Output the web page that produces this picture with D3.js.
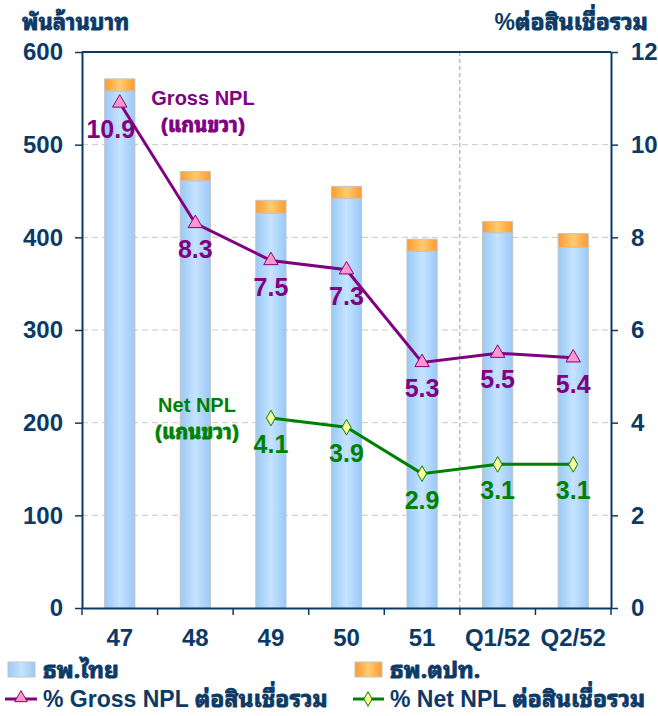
<!DOCTYPE html>
<html>
<head>
<meta charset="utf-8">
<script src="https://cdn.jsdelivr.net/npm/d3@7"></script>
<style>
	body { margin: 0; background: #fff; }
	text { font-family: "Liberation Sans", Arial, sans-serif; font-weight: bold; font-style: normal; }
	.tickLabel { fill: #0b3a66; font-size: 24px; }
	.axisTitle { fill: #0b3a66; font-size: 23px; }
	.legendText { fill: #0b3a66; font-size: 23px; }
	.thai { font-family: Tahoma, "Noto Sans Thai Looped", "Loma", "Garuda", "Waree", "Sarabun", "Noto Sans Thai", sans-serif; font-style: normal;
		stroke-width: 0.8px; paint-order: stroke; stroke-linejoin: round; }
</style>
</head>
<body>
<svg id="chart" width="658" height="716"></svg>
<script>
// data
var years = ['47', '48', '49', '50', '51', 'Q1/52', 'Q2/52'];
var thaiBanks = [558, 461, 426, 442, 385, 405, 389];     // ธพ.ไทย (พันล้านบาท)
var foreignBanks = [13, 10, 14, 13, 13, 12, 15];         // ธพ.ตปท.
var grossNpl = [10.9, 8.3, 7.5, 7.3, 5.3, 5.5, 5.4];     // % ต่อสินเชื่อรวม
var netNpl = [null, null, 4.1, 3.9, 2.9, 3.1, 3.1];
var leftTicks = [0, 100, 200, 300, 400, 500, 600];
var rightTicks = [0, 2, 4, 6, 8, 10, 12];

var navy = '#0b3a66';
var purple = '#800080';
var green = '#008000';
var plot = {left: 82, right: 611, top: 52, bottom: 608};

var svg = d3.select('#chart');

var x = d3.scaleBand()
	.domain(years)
	.range([plot.left, plot.right])
	.paddingInner(0.6)
	.paddingOuter(0.3);
var xBand = d3.scaleBand().domain(years).range([plot.left, plot.right]);
var yLeft = d3.scaleLinear().domain([0, 600]).range([plot.bottom, plot.top]);
var yRight = d3.scaleLinear().domain([0, 12]).range([plot.bottom, plot.top]);

var cx = function(i){ return xBand(years[i]) + xBand.bandwidth() / 2; };

// writes "latin part" + "thai part", thai part thickened a bit
var mixedText = function(sel, latin, thai, color){
	if (latin) sel.append('tspan').text(latin);
	sel.append('tspan').attr('class', 'thai').attr('stroke', color).text(thai);
	return sel;
};

// gradients for the bars
var defs = svg.append('defs');
var addGradient = function(id, edge, mid){
	var g = defs.append('linearGradient')
		.attr('id', id)
		.attr('x1', '0%').attr('x2', '100%')
		.attr('y1', '0%').attr('y2', '0%');
	g.append('stop').attr('offset', '0%').attr('stop-color', edge);
	g.append('stop').attr('offset', '50%').attr('stop-color', mid);
	g.append('stop').attr('offset', '100%').attr('stop-color', edge);
};
addGradient('blueGrad', '#99c9f7', '#c6e3ff');
addGradient('orangeGrad', '#ff9a30', '#ffcc70');

// grid lines
svg.append('g')
	.selectAll('line')
	.data(leftTicks.filter(function(t){ return t > 0 && t < 600; }))
	.enter()
	.append('line')
	.attr('x1', plot.left)
	.attr('x2', plot.right)
	.attr('y1', function(d){ return yLeft(d); })
	.attr('y2', function(d){ return yLeft(d); })
	.attr('stroke', '#c8c8c8')
	.attr('stroke-width', 1)
	.attr('stroke-dasharray', '6,4');

// separator between years and quarters
svg.append('line')
	.attr('x1', xBand('Q1/52'))
	.attr('x2', xBand('Q1/52'))
	.attr('y1', plot.top)
	.attr('y2', plot.bottom)
	.attr('stroke', '#999')
	.attr('stroke-width', 1)
	.attr('stroke-dasharray', '4,3');

// stacked bars
var bars = svg.append('g').attr('id', 'bars');
bars.selectAll('rect.thaiBar')
	.data(thaiBanks)
	.enter()
	.append('rect')
	.attr('class', 'thaiBar')
	.attr('x', function(d, i){ return x(years[i]); })
	.attr('width', x.bandwidth())
	.attr('y', function(d){ return yLeft(d); })
	.attr('height', function(d){ return yLeft(0) - yLeft(d); })
	.attr('fill', 'url(#blueGrad)')
	.attr('stroke', '#c4c4c4')
	.attr('stroke-width', 1);
bars.selectAll('rect.foreignBar')
	.data(foreignBanks)
	.enter()
	.append('rect')
	.attr('class', 'foreignBar')
	.attr('x', function(d, i){ return x(years[i]); })
	.attr('width', x.bandwidth())
	.attr('y', function(d, i){ return yLeft(thaiBanks[i] + d); })
	.attr('height', function(d){ return yLeft(0) - yLeft(d); })
	.attr('fill', 'url(#orangeGrad)')
	.attr('stroke', '#c4c4c4')
	.attr('stroke-width', 1);

// frame: top line
svg.append('line')
	.attr('x1', plot.left).attr('x2', plot.right)
	.attr('y1', plot.top).attr('y2', plot.top)
	.attr('stroke', navy).attr('stroke-width', 2);

// axes
var styleAxis = function(g){
	g.selectAll('.domain').attr('stroke', navy).attr('stroke-width', 2);
	g.selectAll('.tick line').attr('stroke', navy).attr('stroke-width', 1.5);
	g.selectAll('.tick text').attr('class', 'tickLabel').attr('font-family', null).attr('font-size', null).attr('fill', null);
};
svg.append('g')
	.attr('transform', 'translate(' + plot.left + ',0)')
	.call(d3.axisLeft(yLeft).tickValues(leftTicks).tickSize(7).tickSizeOuter(0).tickPadding(12))
	.call(styleAxis);
svg.append('g')
	.attr('transform', 'translate(' + plot.right + ',0)')
	.call(d3.axisRight(yRight).tickValues(rightTicks).tickSize(7).tickSizeOuter(0).tickPadding(13))
	.call(styleAxis);
var xAxis = svg.append('g')
	.attr('transform', 'translate(0,' + plot.bottom + ')')
	.call(d3.axisBottom(xBand).tickSize(0).tickSizeOuter(0).tickPadding(21))
	.call(styleAxis);
// category ticks sit between the bands
xAxis.selectAll('.sepTick')
	.data(years.concat(['end']))
	.enter()
	.append('line')
	.attr('x1', function(d, i){ return plot.left + i * xBand.bandwidth(); })
	.attr('x2', function(d, i){ return plot.left + i * xBand.bandwidth(); })
	.attr('y1', 0)
	.attr('y2', 7)
	.attr('stroke', navy)
	.attr('stroke-width', 1.5);

// axis titles
svg.append('text')
	.attr('class', 'axisTitle')
	.attr('x', 22)
	.attr('y', 30)
	.style('font-size', '22px')
	.call(mixedText, '', 'พันล้านบาท', navy);
svg.append('text')
	.attr('class', 'axisTitle')
	.attr('x', 648)
	.attr('y', 30)
	.attr('text-anchor', 'end')
	.call(mixedText, '%', 'ต่อสินเชื่อรวม', navy);

// lines
var addSeries = function(values, color, marker, fill, id){
	var pts = values.map(function(v, i){ return {v: v, i: i}; })
		.filter(function(p){ return p.v !== null; });
	var g = svg.append('g').attr('id', id);
	g.append('path')
		.datum(pts)
		.attr('fill', 'none')
		.attr('stroke', color)
		.attr('stroke-width', 3)
		.attr('d', d3.line()
			.x(function(p){ return cx(p.i); })
			.y(function(p){ return yRight(p.v); }));
	g.selectAll('path.marker')
		.data(pts)
		.enter()
		.append('path')
		.attr('class', 'marker')
		.attr('transform', function(p){ return 'translate(' + cx(p.i) + ',' + yRight(p.v) + ')'; })
		.attr('d', d3.symbol().type(marker).size(marker === d3.symbolTriangle ? 90 : 70))
		.attr('fill', fill)
		.attr('stroke', color)
		.attr('stroke-width', 1);
	g.selectAll('text')
		.data(pts)
		.enter()
		.append('text')
		.attr('x', function(p){ return cx(p.i) + (p.v === 10.9 ? -9 : 0); })
		.attr('y', function(p){ return yRight(p.v) + 35; })
		.attr('text-anchor', 'middle')
		.attr('fill', color)
		.style('font-size', '25px')
		.text(function(p){ return p.v.toFixed(1); });
};
addSeries(grossNpl, purple, d3.symbolTriangle, '#ff99cc', 'grossG');
addSeries(netNpl, green, d3.symbolDiamond, '#ffff99', 'netG');

// in-chart notes
var note = function(title, cxPos, y, color){
	svg.append('text')
		.attr('x', cxPos)
		.attr('y', y)
		.attr('text-anchor', 'middle')
		.attr('fill', color)
		.style('font-size', '20px')
		.text(title);
	svg.append('text')
		.attr('x', cxPos)
		.attr('y', y + 27)
		.attr('text-anchor', 'middle')
		.attr('fill', color)
		.style('font-size', '20px')
		.call(mixedText, '', '(แกนขวา)', color);
};
note('Gross NPL', 203, 105, purple);
note('Net NPL', 197, 412, green);

// legend
var legend = svg.append('g').attr('id', 'legend');
legend.append('rect')
	.attr('x', 8).attr('y', 662).attr('width', 27).attr('height', 15)
	.attr('fill', 'url(#blueGrad)').attr('stroke', '#c4c4c4');
legend.append('text').attr('class', 'legendText').attr('x', 43).attr('y', 678)
	.call(mixedText, '', 'ธพ.ไทย', navy);
legend.append('rect')
	.attr('x', 355).attr('y', 662).attr('width', 27).attr('height', 15)
	.attr('fill', 'url(#orangeGrad)').attr('stroke', '#c4c4c4');
legend.append('text').attr('class', 'legendText').attr('x', 390).attr('y', 678)
	.call(mixedText, '', 'ธพ.ตปท.', navy);

legend.append('line')
	.attr('x1', 5).attr('x2', 37).attr('y1', 699).attr('y2', 699)
	.attr('stroke', purple).attr('stroke-width', 3);
legend.append('path')
	.attr('transform', 'translate(21,698)')
	.attr('d', d3.symbol().type(d3.symbolTriangle).size(70))
	.attr('fill', '#ff99cc').attr('stroke', purple);
legend.append('text').attr('class', 'legendText').attr('x', 43).attr('y', 707)
	.call(mixedText, '% Gross NPL ', 'ต่อสินเชื่อรวม', navy);

legend.append('line')
	.attr('x1', 353).attr('x2', 384).attr('y1', 699).attr('y2', 699)
	.attr('stroke', green).attr('stroke-width', 3);
legend.append('path')
	.attr('transform', 'translate(368,699)')
	.attr('d', d3.symbol().type(d3.symbolDiamond).size(60))
	.attr('fill', '#ffff99').attr('stroke', green);
legend.append('text').attr('class', 'legendText').attr('x', 390).attr('y', 707)
	.call(mixedText, '% Net NPL ', 'ต่อสินเชื่อรวม', navy);
</script>
</body>
</html>
